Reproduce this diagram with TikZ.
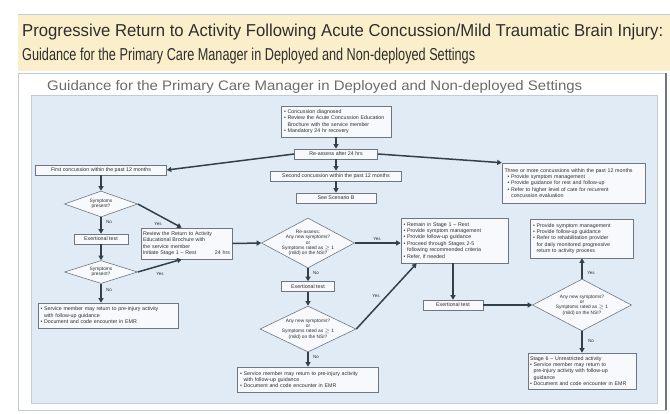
\documentclass[tikz,border=0pt]{standalone}
\usepackage{fontspec}
\setmainfont{Liberation Sans}
\usetikzlibrary{shapes.geometric,arrows.meta,calc}
\definecolor{band}{HTML}{FBEFCB}
\definecolor{panel}{HTML}{E0EBF6}
\definecolor{panelline}{HTML}{C3CCD6}
\definecolor{boxfill}{HTML}{F7F9FC}
\definecolor{boxline}{HTML}{6E7781}
\definecolor{arr}{HTML}{333F49}
\definecolor{ttl}{HTML}{2E2E2E}
\definecolor{subc}{HTML}{6B6B6B}
\newcommand{\bl}{\textbullet~}
\newcommand{\ind}{\phantom{\textbullet~}}
\begin{document}
\begin{tikzpicture}[x=1pt,y=-1pt,
  bx/.style={draw=boxline,line width=0.6pt,fill=boxfill,inner sep=0pt,
    font=\fontsize{5.3}{6.4}\selectfont,text=ttl,align=left},
  cbx/.style={bx,align=center},
  dia/.style={diamond,draw=boxline,line width=0.6pt,fill=boxfill,inner sep=0pt},
  dtx/.style={font=\fontsize{4.8}{5.4}\selectfont,align=center,text=ttl,inner sep=0pt},
  lbl/.style={font=\fontsize{4.5}{4.5}\selectfont,text=ttl,inner sep=0pt},
  arw/.style={draw=arr,line width=1.5pt,-{Triangle[length=4.5pt,width=5pt]}}]
\useasboundingbox (0,0) rectangle (670,413);
\fill[white] (0,0) rectangle (670,413);
% title band
\fill[band] (18,14) rectangle (670,71);
\draw[panelline,line width=0.5pt] (18,14) -- (670,14);
\node[anchor=west,inner sep=0pt,text=ttl] (t1) at (22,32)
  {\resizebox{641pt}{12.5pt}{Progressive Return to Activity Following Acute Concussion/Mild Traumatic Brain Injury:}};
\node[anchor=west,inner sep=0pt,text=ttl] (t2) at (22,56)
  {\resizebox{453pt}{12.5pt}{Guidance for the Primary Care Manager in Deployed and Non-deployed Settings}};
% frame
\draw[panelline,line width=0.6pt,fill=white] (18,73) rectangle (666,410);
\draw[boxline,line width=1.6pt] (666,73) -- (666,410);
\node[anchor=west,inner sep=0pt,text=subc] (st) at (47,87)
  {\resizebox{535pt}{10pt}{Guidance for the Primary Care Manager in Deployed and Non-deployed Settings}};
\draw[panelline,line width=0.6pt,fill=panel] (31,95) rectangle (657,403);

% centre column
\node[bx,minimum width=110,minimum height=31,text width=104pt] (tb) at (336,121.5)
  {\bl Concussion diagnosed\\\bl Review the Acute Concussion Education\\\ind Brochure with the service member\\\bl Mandatory 24 hr recovery};
\node[cbx,minimum width=83,minimum height=10] (ra) at (336,154) {Re-assess after 24 hrs};
\node[cbx,minimum width=131,minimum height=10] (sc) at (336,176) {Second concussion within the past 12 months};
\node[cbx,minimum width=80,minimum height=10] (sb) at (336,198) {See Scenario B};

% left column
\node[cbx,minimum width=131,minimum height=10] (fc) at (101,170) {First concussion within the past 12 months};
\node[dia,minimum width=73,minimum height=26] (d1) at (101,204) {};
\node[dtx] at (d1) {Symptoms\\present?};
\node[cbx,minimum width=54,minimum height=10] (e1) at (101,239) {Exertional test};
\node[dia,minimum width=73,minimum height=23] (d2) at (101,272) {};
\node[dtx] at (d2) {Symptoms\\present?};
\node[bx,minimum width=140,minimum height=25,text width=135pt] (lb) at (108,315.5)
  {\bl Service member may return to pre-injury activity\\\ind with follow-up guidance\\\bl Document and code encounter in EMR};
\node[bx,minimum width=91,minimum height=31,text width=87pt] (s1) at (186.5,243.5)
  {Review the Return to Activity\\Educational Brochure with\\the service member\\Initiate Stage 1 -- Rest \hfill 24 hrs};

% middle column
\node[dia,minimum width=93,minimum height=50] (m1) at (308,243) {};
\node[dtx] at (m1) {Re-assess:\\Any new symptoms?\\or\\Symptoms rated as $\geq$ 1\\(mild) on the NSI?};
\node[cbx,minimum width=53,minimum height=10] (e2) at (308,286.5) {Exertional test};
\node[dia,minimum width=96,minimum height=46] (m2) at (308,329) {};
\node[dtx] at (m2) {Any new symptoms?\\or\\Symptoms rated as $\geq$ 1\\(mild) on the NSI?};
\node[bx,minimum width=141,minimum height=25,text width=136pt] (mb) at (308,379.5)
  {\bl Service member may return to pre-injury activity\\\ind with follow-up guidance\\\bl Document and code encounter in EMR};

% right part
\node[bx,minimum width=143,minimum height=40,text width=138pt] (tm) at (573.5,183)
  {Three or more concussions within the past 12 months\\
   \hspace*{3pt}\bl Provide symptom management\\
   \hspace*{3pt}\bl Provide guidance for rest and follow-up\\
   \hspace*{3pt}\bl Refer to higher level of care for recurrent\\
   \hspace*{3pt}\ind concussion evaluation};
\node[bx,minimum width=107,minimum height=45,text width=102pt] (rm) at (454.5,240.5)
  {\bl Remain in Stage 1 -- Rest\\\bl Provide symptom management\\\bl Provide follow-up guidance\\\bl Proceed through Stages 2-5\\\ind following recommended criteria\\\bl Refer, if needed};
\node[cbx,minimum width=60,minimum height=10] (e3) at (453,305) {Exertional test};
\node[dia,minimum width=99,minimum height=52] (rd) at (582,305) {};
\node[dtx] at (rd) {Any new symptoms?\\or\\Symptoms rated as $\geq$ 1\\(mild) on the NSI?};
\node[bx,minimum width=103,minimum height=39,text width=98pt] (rt) at (582,238.5)
  {\bl Provide symptom management\\\bl Provide follow-up guidance\\\bl Refer to rehabilitation provider\\\ind for daily monitored progressive\\\ind return to activity process};
\node[bx,minimum width=108,minimum height=36,text width=104pt] (rb) at (582,371)
  {Stage 6 -- Unrestricted activity\\\bl Service member may return to\\\ind pre-injury activity with follow-up\\\ind guidance\\\bl Document and code encounter in EMR};

% connectors
\draw[arw] (tb.south) -- (ra.north);
\draw[arw] (ra.south) -- (sc.north);
\draw[arw] (sc.south) -- (sb.north);
\draw[arw] (ra.west) -- (fc.east);
\draw[arw] (ra.east) -- (tm.north west);
\draw[arw] (fc.south) -- (d1.north);
\draw[arw] (d1.south) -- (e1.north);
\draw[arw] (e1.south) -- (d2.north);
\draw[arw] (d2.south) -- (d2.south |- lb.north);
\coordinate (s1top) at ($(s1.north west)+(41,0)$);
\coordinate (s1bot) at ($(s1.south west)+(41,0)$);
\draw[arw] (d1.east) -- (s1top);
\draw[arw] (d2.east) -- (s1bot);
\draw[arw] (s1.east) -- (m1.west);
\draw[arw] (m1.east) -- (m1.east -| rm.west);
\draw[arw] (m1.south) -- (e2.north);
\draw[arw] (e2.south) -- (m2.north);
\draw[arw] (m2.south) -- (mb.north);
\coordinate (rmbot) at ($(rm.south west)+(16,0)$);
\draw[arw] (m2.east) -- (rmbot);
\draw[arw] (e3.north |- rm.south) -- (e3.north);
\draw[arw] (e3.east) -- (rd.west);
\draw[arw] (rd.north) -- (rt.south);
\draw[arw] (rd.south) -- (rb.north);

% labels
\node[lbl] at (109,222) {No};
\node[lbl] at (158,224) {Yes};
\node[lbl] at (109,290) {No};
\node[lbl] at (160,274) {Yes};
\node[lbl] at (377,239) {Yes};
\node[lbl] at (316,273) {No};
\node[lbl] at (376,296) {Yes};
\node[lbl] at (316,357) {No};
\node[lbl] at (591,273) {Yes};
\node[lbl] at (591,341) {No};
\end{tikzpicture}
\end{document}
